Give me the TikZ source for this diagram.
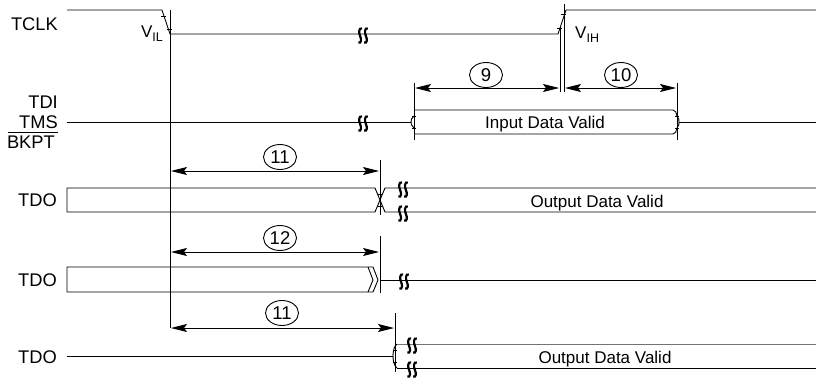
\documentclass[tikz,border=0pt]{standalone}
\usepackage{fontspec}
\setmainfont{Liberation Sans}
\usetikzlibrary{arrows.meta,shapes.geometric}
\tikzset{
  brkS/.style={line width=2.2pt},
  brk/.pic={
    \draw[brkS] (-1.0,-5.5) .. controls (-4.2,-6.8) and (-4.4,-1) .. (-2.9,2) .. controls (-1.5,5) and (-1.5,9.8) .. (-4.6,8.5);
    \draw[brkS] (4.8,-5.5) .. controls (1.6,-6.8) and (1.4,-1) .. (2.9,2) .. controls (4.3,5) and (4.3,9.8) .. (1.2,8.5);
  }
}
\begin{document}
\begin{tikzpicture}[x=1pt,y=-1pt,
  sig/.style={line width=0.9pt},
  thin line/.style={line width=0.8pt},
  dim/.style={line width=0.9pt, {Stealth[length=16pt,width=8pt,inset=3pt]}-{Stealth[length=16pt,width=8pt,inset=3pt]}},
  lbl/.style={font=\fontsize{18.3}{21}\selectfont, inner sep=0pt},
  txt/.style={font=\fontsize{17}{20}\selectfont, inner sep=0pt},
  num/.style={ellipse, draw, line width=0.9pt, minimum width=33pt, minimum height=25pt, inner sep=0pt, font=\fontsize{18.5}{20}\selectfont}
]
\useasboundingbox (0,0) rectangle (816,380);

% ---------- labels ----------
\node[lbl, anchor=base east] (lTCLK) at (58,30) {TCLK};
\node[lbl, anchor=base east] (lTDI) at (58,108) {TDI};
\node[lbl, anchor=base east] (lTMS) at (58,128) {TMS};
\node[lbl, anchor=base east] (lBKPT) at (55,148) {BKPT};
\coordinate (olA) at (8,132);
\coordinate (olB) at (58,132);
\draw[thin line] (olA) -- (olB);
\node[lbl, anchor=base east] (lTDO1) at (57,206) {TDO};
\node[lbl, anchor=base east] (lTDO2) at (57,286) {TDO};
\node[lbl, anchor=base east] (lTDO3) at (57,363) {TDO};

\node[txt, anchor=base east] (vil) at (163,37) {V\raisebox{-4pt}{\fontsize{12.5}{12}\selectfont IL}};
\node[txt, anchor=base west] (vih) at (575,38) {V\raisebox{-4pt}{\fontsize{12.5}{12}\selectfont IH}};

% ---------- TCLK ----------
\draw[sig] (67,10) -- (162,10) -- (170,34) -- (558,34) -- (566,10) -- (816,10);
\draw[thin line] (161,16) -- (166,16);
\draw[thin line] (167,29) -- (172,29);
\draw[thin line] (557,28) -- (562,28);
\draw[thin line] (561,14) -- (566,14);
\pic at (363,34) {brk};

% verticals
\coordinate (v1t) at (170,10);
\coordinate (v1b) at (170,328);
\draw[thin line] (v1t) -- (v1b);
\coordinate (v9t) at (560,27);
\coordinate (v9b) at (560,92);
\draw[thin line] (v9t) -- (v9b);
\coordinate (v10t) at (564,4);
\coordinate (v10b) at (564,92);
\draw[thin line] (v10t) -- (v10b);
\coordinate (vin1t) at (414,83);
\coordinate (vin1b) at (414,140);
\draw[thin line] (vin1t) -- (vin1b);
\coordinate (vin2t) at (677,83);
\coordinate (vin2b) at (677,140);
\draw[thin line] (vin2t) -- (vin2b);

% ---------- dimension arrows ----------
\coordinate (a9l) at (415,88);
\coordinate (a9r) at (559,88);
\draw[dim] (a9l) -- (a9r);
\node[num] (n9) at (486,75) {9};
\coordinate (a10l) at (565,88);
\coordinate (a10r) at (676,88);
\draw[dim] (a10l) -- (a10r);
\node[num] (n10) at (621,75) {10};

% ---------- TDI / TMS / BKPT ----------
\draw[sig] (67,122) -- (411,122);
\pic at (363,122) {brk};
\draw[sig] (414,116) .. controls (411.5,118) and (411,120) .. (411,122) .. controls (411,124) and (411.5,126) .. (414,128);
\draw[sig] (414,110) -- (673,110) .. controls (676,110) and (676,113) .. (677,116)
  .. controls (679,118) and (679,120) .. (679,122) .. controls (679,124) and (679,126) .. (677,128)
  .. controls (676,131) and (676,134) .. (673,134) -- (414,134);
\draw[thin line] (412,116) -- (416,116);
\draw[thin line] (412,128) -- (416,128);
\draw[thin line] (675,116) -- (679,116);
\draw[thin line] (675,128) -- (679,128);
\draw[sig] (679,122) -- (816,122);
\node[txt, anchor=base] (tin) at (545,128) {Input Data Valid};

% ---------- TDO row 1 ----------
\coordinate (a11l) at (171,171);
\coordinate (a11r) at (379,171);
\draw[dim] (a11l) -- (a11r);
\node[num] (n11a) at (280,157) {11};
\coordinate (vr1t) at (380,160);
\coordinate (vr1b) at (380,215);
\draw[thin line] (vr1t) -- (vr1b);
\draw[sig] (67,188) -- (375,188) -- (380,200) -- (375,212) -- (67,212) -- cycle;
\draw[sig] (816,188) -- (385,188) -- (380,200) -- (385,212) -- (816,212);
\draw[thin line] (378,194) -- (382,194);
\draw[thin line] (378,206) -- (382,206);
\pic at (403,188) {brk};
\pic at (403,212) {brk};
\node[txt, anchor=base] (tout1) at (597,207) {Output Data Valid};

% ---------- TDO row 2 ----------
\coordinate (a12l) at (171,252);
\coordinate (a12r) at (379,252);
\draw[dim] (a12l) -- (a12r);
\node[num] (n12) at (280,238) {12};
\coordinate (vr2t) at (380,236);
\coordinate (vr2b) at (380,293);
\draw[thin line] (vr2t) -- (vr2b);
\draw[sig] (67,267) -- (373,267) -- (378,280) -- (373,292) -- (67,292) -- cycle;
\draw[sig] (368,267) -- (373,280) -- (368,292);
\draw[sig] (380,280) -- (816,280);
\pic at (404,280) {brk};

% ---------- TDO row 3 ----------
\coordinate (a11bl) at (171,328);
\coordinate (a11br) at (394,328);
\draw[dim] (a11bl) -- (a11br);
\node[num] (n11b) at (282,313) {11};
\coordinate (vr3t) at (395,313);
\coordinate (vr3b) at (395,372);
\draw[thin line] (vr3t) -- (vr3b);
\draw[sig] (67,356) -- (393,356);
\draw[sig] (397,344) .. controls (394,346) and (393,352) .. (393,356) .. controls (393,360) and (394,366) .. (397,368);
\draw[sig, black!55] (397,344) -- (816,344);
\draw[sig] (397,368) -- (816,368);
\draw[thin line] (393,350) -- (397,350);
\draw[thin line] (393,362) -- (397,362);
\pic at (412,344) {brk};
\pic at (412,368) {brk};
\node[txt, anchor=base] (tout2) at (605,363) {Output Data Valid};
\end{tikzpicture}
\end{document}
